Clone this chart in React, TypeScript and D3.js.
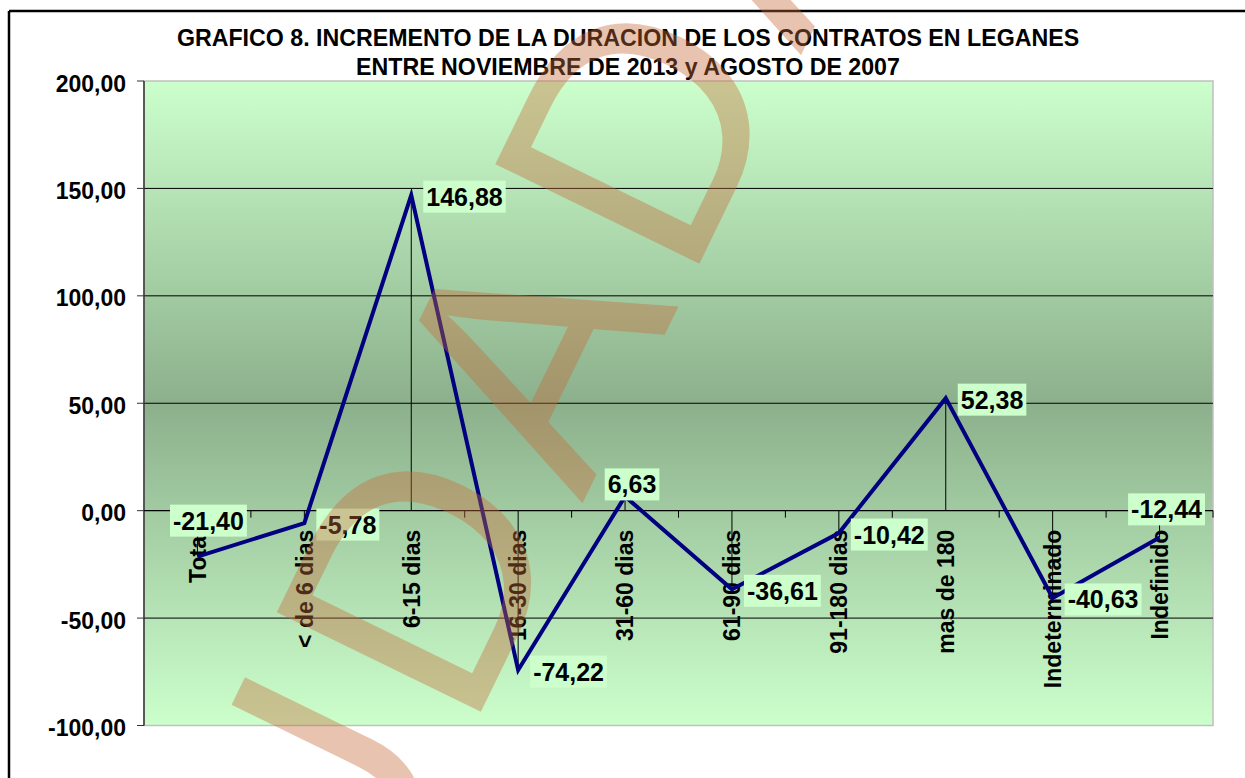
import React from "react";
import * as d3 from "d3";

const titleLines = [
  "GRAFICO 8. INCREMENTO DE LA DURACION DE LOS CONTRATOS EN LEGANES",
  "ENTRE NOVIEMBRE DE 2013 y AGOSTO DE 2007",
];
const categories = [
  "Total",
  "< de 6 dias",
  "6-15 dias",
  "16-30 dias",
  "31-60 dias",
  "61-90 dias",
  "91-180 dias",
  "mas de 180",
  "Indeterminado",
  "Indefinido",
];
const values = [-21.4, -5.78, 146.88, -74.22, 6.63, -36.61, -10.42, 52.38, -40.63, -12.44];
const yTicks = [200, 150, 100, 50, 0, -50, -100];
// label placement style: "right" or "above:dy:dx"
const labelPlacement: string[] = ["above:-36:11", "right", "right", "right", "above:-12:7", "right", "right", "right", "right", "above:-28:7"];
const watermarkBefore = "CIU";
const watermarkAfter = "DADANA";

const FONT = "Arial, 'Liberation Sans', sans-serif";
const W = 1245;
const H = 778;
const plot = { left: 144, right: 1213, top: 81, bottom: 725.5 };

const fmt = (v: number) => d3.format(".2f")(v).replace(".", ",").replace("−", "-");

let ctx: CanvasRenderingContext2D | null = null;
function measure(text: string, font: string) {
  if (!ctx) ctx = document.createElement("canvas").getContext("2d");
  if (!ctx) return text.length * 14;
  ctx.font = font;
  return ctx.measureText(text).width;
}

export default function App() {
  const x = d3.scaleBand<string>().domain(categories).range([plot.left, plot.right]);
  const y = d3.scaleLinear().domain([-100, 200]).range([plot.bottom, plot.top]);
  const cx = (c: string) => (x(c) as number) + x.bandwidth() / 2;
  const line = d3
    .line<number>()
    .x((_, i) => cx(categories[i]))
    .y((v) => y(v));
  const y0 = y(0);
  const boundaries = d3.range(1, categories.length + 1).map((k) => plot.left + k * x.bandwidth());

  return (
    <svg
      width={W}
      height={H}
      style={{ position: "absolute", left: 0, top: 0, background: "#fff" }}
      fontFamily={FONT}
    >
      <defs>
        <linearGradient id="bg" x1="0" y1="0" x2="0" y2="1">
          <stop offset="0" stopColor="#ccffcc" />
          <stop offset="0.5" stopColor="#8cb08c" />
          <stop offset="1" stopColor="#ccffcc" />
        </linearGradient>
      </defs>
      <rect x={0} y={0} width={W} height={H} fill="#fff" />
      {/* outer frame (left and top edges visible) */}
      <line x1={9} x2={9} y1={11} y2={H} stroke="#000" strokeWidth={2.5} />
      <line x1={9} x2={W} y1={11} y2={11} stroke="#000" strokeWidth={2.5} />
      {/* title */}
      {titleLines.map((t, i) => (
        <text key={i} x={628} y={46 + i * 28.5} textAnchor="middle" fontWeight="bold" fontSize={23.2}>
          {t}
        </text>
      ))}
      {/* plot area */}
      <rect
        x={plot.left}
        y={plot.top}
        width={plot.right - plot.left}
        height={plot.bottom - plot.top}
        fill="url(#bg)"
        stroke="#c0c0c0"
        strokeWidth={1.5}
      />
      {/* gridlines */}
      {yTicks
        .filter((t) => t !== 200 && t !== -100 && t !== 0)
        .map((t) => (
          <line key={t} x1={plot.left} x2={plot.right} y1={y(t)} y2={y(t)} stroke="#000" strokeWidth={1} />
        ))}
      {/* y axis */}
      <line x1={plot.left} x2={plot.left} y1={plot.top} y2={plot.bottom} stroke="#333" strokeWidth={1.5} />
      {yTicks.map((t) => (
        <g key={t}>
          <line x1={plot.left - 7} x2={plot.left} y1={y(t)} y2={y(t)} stroke="#333" strokeWidth={1} />
          <text x={126} y={y(t) + 10.5} textAnchor="end" fontWeight="bold" fontSize={23}>
            {fmt(t)}
          </text>
        </g>
      ))}
      {/* x axis */}
      <line x1={plot.left} x2={plot.right} y1={y0} y2={y0} stroke="#000" strokeWidth={1.2} />
      {boundaries.map((bx, i) => (
        <line key={i} x1={bx} x2={bx} y1={y0} y2={y0 + 7} stroke="#000" strokeWidth={1} />
      ))}
      {/* drop lines */}
      {values.map((v, i) => (
        <line key={i} x1={cx(categories[i])} x2={cx(categories[i])} y1={y0} y2={y(v)} stroke="#000" strokeWidth={1} />
      ))}
      {/* category labels */}
      {categories.map((c) => (
        <text
          key={c}
          transform={`translate(${cx(c)},${y0 + 19}) rotate(-90)`}
          textAnchor="end"
          dy="0.36em"
          fontWeight="bold"
          fontSize={23}
        >
          {c}
        </text>
      ))}
      {/* series line */}
      <path d={line(values) || ""} fill="none" stroke="#000080" strokeWidth={4} strokeLinejoin="miter" />
      {/* data labels */}
      {values.map((v, i) => {
        const label = fmt(v);
        const tw = measure(label, `bold 25px ${FONT}`);
        const px = cx(categories[i]);
        const py = y(v);
        const pl = labelPlacement[i];
        let bx: number;
        let bcy: number;
        if (pl.startsWith("above")) {
          const [, dy, dx] = pl.split(":").map(Number);
          bx = px + dx - (tw + 6) / 2;
          bcy = py + dy;
        } else {
          bx = px + 12;
          bcy = py + 1.5;
        }
        return (
          <g key={i}>
            <rect x={bx} y={bcy - 16} width={tw + 6} height={32} fill="#ccffcc" />
            <text x={bx + 3} y={bcy + 9} fontWeight="bold" fontSize={25}>
              {label}
            </text>
          </g>
        );
      })}
      {/* watermark */}
      <g
        transform="translate(469,736) rotate(-64)"
        fill="rgb(197,107,57)"
        fillOpacity={0.4}
        fontFamily="Arial, 'Liberation Sans', sans-serif"
        fontSize={330}
      >
        <text x={0} y={0} textAnchor="end" letterSpacing={20}>
          {watermarkBefore}
        </text>
        <text x={0} y={0} textAnchor="start" letterSpacing={20}>
          {watermarkAfter}
        </text>
      </g>
    </svg>
  );
}
